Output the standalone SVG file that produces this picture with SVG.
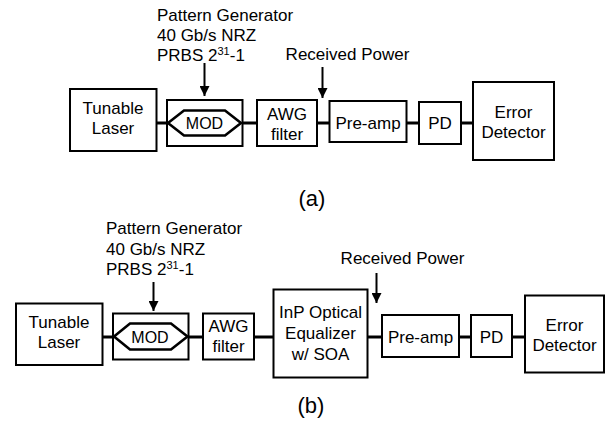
<svg xmlns="http://www.w3.org/2000/svg" width="606" height="422" viewBox="0 0 606 422">
<defs>
<style>
.box{fill:#fff;stroke:#000;stroke-width:2}
.hex{fill:none;stroke:#000;stroke-width:2.6;stroke-linejoin:miter}
.conn{stroke:#000;stroke-width:3;fill:none}
.arr{stroke:#000;stroke-width:2;fill:none}
text{font-family:"Liberation Sans",Arial,sans-serif;font-size:17px;fill:#000}
.c{text-anchor:middle}
.mod{font-size:16px}
.sup{font-size:11px}
.lbl{font-size:22px}
</style>
<marker id="ah" viewBox="0 0 10 10" refX="10" refY="5" markerWidth="10" markerHeight="10" markerUnits="userSpaceOnUse" orient="auto">
<path d="M0,0 L10,5 L0,10 Z" fill="#000"/>
</marker>
</defs>
<rect width="606" height="422" fill="#fff"/>

<g id="connectors">
<line class="conn" x1="156" y1="123" x2="168" y2="123"/>
<line class="conn" x1="242" y1="123" x2="257" y2="123"/>
<line class="conn" x1="317" y1="123" x2="330" y2="123"/>
<line class="conn" x1="407" y1="123" x2="419" y2="123"/>
<line class="conn" x1="461" y1="123" x2="473" y2="123"/>
<line class="arr" x1="204.5" y1="63" x2="204.5" y2="96" marker-end="url(#ah)"/>
<line class="arr" x1="322.5" y1="67" x2="322.5" y2="98" marker-end="url(#ah)"/>

<line class="conn" x1="102" y1="337" x2="114" y2="337"/>
<line class="conn" x1="188" y1="337" x2="203" y2="337"/>
<line class="conn" x1="254" y1="337" x2="274" y2="337"/>
<line class="conn" x1="368" y1="337" x2="382" y2="337"/>
<line class="conn" x1="459" y1="337" x2="471" y2="337"/>
<line class="conn" x1="512" y1="337" x2="525" y2="337"/>
<line class="arr" x1="153.5" y1="282" x2="153.5" y2="311" marker-end="url(#ah)"/>
<line class="arr" x1="376.5" y1="273" x2="376.5" y2="303" marker-end="url(#ah)"/>
</g>

<g id="a-pattern-label">
<text x="157" y="21">Pattern Generator</text>
<text x="157" y="41">40 Gb/s NRZ</text>
<text x="157" y="61">PRBS 2<tspan class="sup" dy="-6">31</tspan><tspan dy="6">-1</tspan></text>
</g>
<g id="a-received-label"><text class="c" x="347.5" y="60">Received Power</text></g>

<g id="a-laser"><rect class="box" x="70" y="89" width="86.5" height="62"/>
<text class="c" x="113" y="114">Tunable</text><text class="c" x="113" y="134">Laser</text></g>
<g id="a-mod"><rect class="box" x="167" y="100" width="75.5" height="46"/>
<polygon class="hex" points="168,123 184,110.5 225,110.5 241,123 225,135.5 184,135.5"/>
<text class="c mod" x="204.5" y="129">MOD</text></g>
<g id="a-awg"><rect class="box" x="257" y="100" width="60" height="46"/>
<text class="c" x="287" y="120">AWG</text><text class="c" x="287" y="140">filter</text></g>
<g id="a-preamp"><rect class="box" x="329.5" y="101" width="77" height="41"/>
<text class="c" x="368" y="129">Pre-amp</text></g>
<g id="a-pd"><rect class="box" x="419" y="102" width="42" height="42"/>
<text class="c" x="440" y="129">PD</text></g>
<g id="a-error"><rect class="box" x="473" y="82" width="81" height="78"/>
<text class="c" x="513.5" y="118">Error</text><text class="c" x="513.5" y="138">Detector</text></g>
<g id="a-caption"><text class="c lbl" x="312" y="206">(a)</text></g>

<g id="b-pattern-label">
<text x="106" y="234">Pattern Generator</text>
<text x="106" y="255">40 Gb/s NRZ</text>
<text x="106" y="275">PRBS 2<tspan class="sup" dy="-6">31</tspan><tspan dy="6">-1</tspan></text>
</g>
<g id="b-received-label"><text class="c" x="402.5" y="264">Received Power</text></g>

<g id="b-laser"><rect class="box" x="16" y="303.5" width="86.5" height="61.5"/>
<text class="c" x="59" y="328">Tunable</text><text class="c" x="59" y="348">Laser</text></g>
<g id="b-mod"><rect class="box" x="113" y="313.5" width="75.5" height="46"/>
<polygon class="hex" points="114,336.5 130,323.5 171,323.5 187.5,336.5 171,349.5 130,349.5"/>
<text class="c mod" x="150" y="343">MOD</text></g>
<g id="b-awg"><rect class="box" x="203" y="313.5" width="51" height="46"/>
<text class="c" x="228.5" y="331.5">AWG</text><text class="c" x="228.5" y="351.5">filter</text></g>
<g id="b-equalizer"><rect class="box" x="273.5" y="289.5" width="94" height="88"/>
<text class="c" x="320.5" y="318">InP Optical</text><text class="c" x="320.5" y="339">Equalizer</text><text class="c" x="320.5" y="360">w/ SOA</text></g>
<g id="b-preamp"><rect class="box" x="382" y="315" width="77" height="42"/>
<text class="c" x="420.5" y="343">Pre-amp</text></g>
<g id="b-pd"><rect class="box" x="471" y="315" width="41" height="42"/>
<text class="c" x="491.5" y="343">PD</text></g>
<g id="b-error"><rect class="box" x="525" y="295.5" width="79" height="77"/>
<text class="c" x="564.5" y="330.5">Error</text><text class="c" x="564.5" y="350.5">Detector</text></g>
<g id="b-caption"><text class="c lbl" x="311" y="413">(b)</text></g>
</svg>
